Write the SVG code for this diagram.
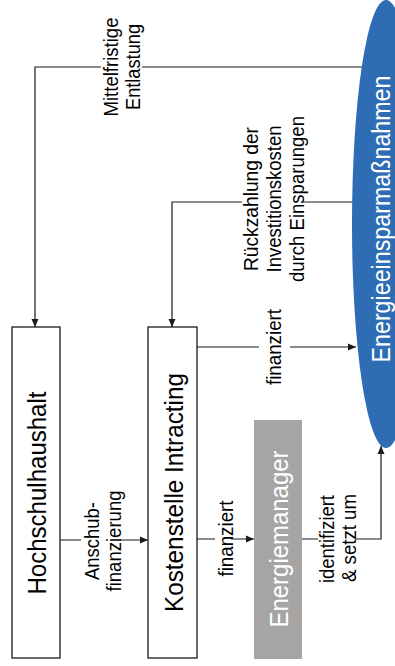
<svg xmlns="http://www.w3.org/2000/svg" width="395" height="666" viewBox="0 0 395 666">
<style>
  .box { fill: #ffffff; stroke: #1a1a1a; stroke-width: 1.3; }
  .gray { fill: #a7a5a4; }
  .ell { fill: #2e6db4; }
  .conn { fill: none; stroke: #1a1a1a; stroke-width: 1.2; }
  .ntext { font-family: "Liberation Sans", Arial, sans-serif; font-size: 26px; fill: #000; text-anchor: middle; }
  .wtext { fill: #ffffff; }
  .lbl { font-family: "Liberation Sans", Arial, sans-serif; font-size: 20px; fill: #000; text-anchor: middle; }
  .bg { fill: #ffffff; }
</style>
<defs>
  <marker id="arr" markerUnits="userSpaceOnUse" markerWidth="9" markerHeight="8" refX="8" refY="4" orient="auto">
    <path d="M0,0.5 L8,4 L0,7.5 Z" fill="#1a1a1a"/>
  </marker>
</defs>
<rect width="395" height="666" fill="#ffffff"/>

<g id="connectors">
  <path class="conn" d="M362 67 H35 V327" marker-end="url(#arr)"/>
  <path class="conn" d="M353 202 H172 V327" marker-end="url(#arr)"/>
  <path class="conn" d="M197 347 H356" marker-end="url(#arr)"/>
  <path class="conn" d="M60 540 H148" marker-end="url(#arr)"/>
  <path class="conn" d="M197 539 H254" marker-end="url(#arr)"/>
  <path class="conn" d="M302 539 H381 V446" marker-end="url(#arr)"/>
</g>

<g id="node-energieeinsparmassnahmen">
  <ellipse class="ell" cx="386" cy="224" rx="34" ry="224"/>
  <text class="ntext wtext" textLength="287" lengthAdjust="spacingAndGlyphs" transform="translate(389.5,219) rotate(-90)">Energieeinsparmaßnahmen</text>
</g>

<g id="node-hochschulhaushalt">
  <rect class="box" x="12" y="327" width="48" height="331"/>
  <text class="ntext" textLength="203" lengthAdjust="spacingAndGlyphs" transform="translate(45.5,493) rotate(-90)">Hochschulhaushalt</text>
</g>

<g id="node-kostenstelle">
  <rect class="box" x="148" y="327" width="49" height="331"/>
  <text class="ntext" textLength="239" lengthAdjust="spacingAndGlyphs" transform="translate(182.5,492.5) rotate(-90)">Kostenstelle Intracting</text>
</g>

<g id="node-energiemanager">
  <rect class="gray" x="254" y="420" width="48" height="239"/>
  <text class="ntext wtext" textLength="177" lengthAdjust="spacingAndGlyphs" transform="translate(287.5,539) rotate(-90)">Energiemanager</text>
</g>

<g id="label-mittelfristige">
  <rect class="bg" x="101" y="63" width="41" height="8"/>
  <text class="lbl" textLength="99" lengthAdjust="spacingAndGlyphs" transform="translate(117.5,67) rotate(-90)">Mittelfristige</text>
  <text class="lbl" textLength="86" lengthAdjust="spacingAndGlyphs" transform="translate(139.5,67) rotate(-90)">Entlastung</text>
</g>

<g id="label-rueckzahlung">
  <rect class="bg" x="242" y="198" width="61" height="8"/>
  <text class="lbl" textLength="144" lengthAdjust="spacingAndGlyphs" transform="translate(258,199) rotate(-90)">Rückzahlung  der</text>
  <text class="lbl" textLength="147" lengthAdjust="spacingAndGlyphs" transform="translate(281,199) rotate(-90)">Investitionskosten</text>
  <text class="lbl" textLength="166" lengthAdjust="spacingAndGlyphs" transform="translate(303.5,199) rotate(-90)">durch Einsparungen</text>
</g>

<g id="label-finanziert-1">
  <rect class="bg" x="259" y="343" width="31" height="8"/>
  <text class="lbl" textLength="76" lengthAdjust="spacingAndGlyphs" transform="translate(280.5,347) rotate(-90)">finanziert</text>
</g>

<g id="label-anschub">
  <rect class="bg" x="81" y="536" width="39" height="8"/>
  <text class="lbl" textLength="78" lengthAdjust="spacingAndGlyphs" transform="translate(98.5,541) rotate(-90)">Anschub-</text>
  <text class="lbl" textLength="101" lengthAdjust="spacingAndGlyphs" transform="translate(121,541) rotate(-90)">finanzierung</text>
</g>

<g id="label-finanziert-2">
  <rect class="bg" x="215" y="535" width="16" height="8"/>
  <text class="lbl" textLength="76" lengthAdjust="spacingAndGlyphs" transform="translate(232.5,538.5) rotate(-90)">finanziert</text>
</g>

<g id="label-identifiziert">
  <rect class="bg" x="318" y="535" width="37" height="8"/>
  <text class="lbl" textLength="88" lengthAdjust="spacingAndGlyphs" transform="translate(333.5,539) rotate(-90)">identifiziert</text>
  <text class="lbl" textLength="88" lengthAdjust="spacingAndGlyphs" transform="translate(356,538) rotate(-90)">&amp; setzt um</text>
</g>
</svg>
